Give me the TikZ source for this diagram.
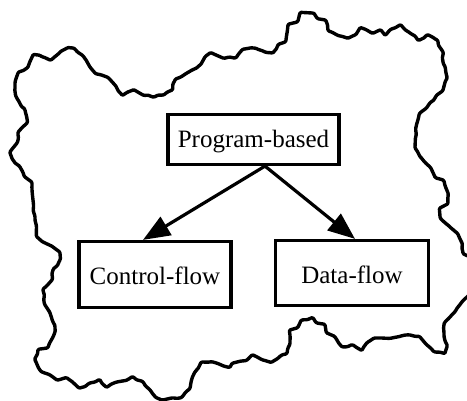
\documentclass[tikz,border=0pt]{standalone}
\usepackage{fontspec}
\setmainfont{Liberation Serif}
\usetikzlibrary{arrows.meta, decorations.pathmorphing}

\tikzset{
  blob/.style={line width=3.4pt, line join=round, line cap=round,
    rounded corners=1pt, decorate,
    decoration={random steps, segment length=5pt, amplitude=1.1pt}},
  boxnode/.style={draw, line width=3.2pt, inner sep=0pt, align=center,
    font=\fontsize{25}{30}\selectfont},
  link/.style={line width=3.2pt, -{Triangle[length=27pt, width=21pt]}}
}

\begin{document}
\begin{tikzpicture}[x=1pt, y=-1pt]
  \pgfmathsetseed{7}
  \useasboundingbox (0,0) rectangle (467,401);
  \clip (0,0) rectangle (467,401);

  % irregular region enclosing the taxonomy
  \draw[blob] (15,90) -- (15,83) -- (18,73) -- (27,68) -- (33,55) -- (43,57)
    -- (50,60) -- (57,55) -- (67,48) -- (73,48) -- (82,55) -- (90,67) -- (95,73)
    -- (107,77) -- (115,85) -- (122,95) -- (133,90) -- (143,95) -- (153,97)
    -- (163,95) -- (172,90) -- (175,80) -- (187,73) -- (200,65) -- (205,57)
    -- (210,53) -- (223,58) -- (235,58) -- (242,50) -- (250,48) -- (260,50)
    -- (272,53) -- (278,45) -- (285,42) -- (287,33) -- (288,25) -- (297,22)
    -- (300,13) -- (313,13) -- (317,18) -- (325,20) -- (328,30) -- (337,35)
    -- (347,38) -- (355,35) -- (360,28) -- (372,33) -- (380,30) -- (385,35)
    -- (390,30) -- (400,25) -- (410,33) -- (418,40) -- (427,35) -- (437,40)
    -- (443,52) -- (443,62) -- (447,77) -- (443,90) -- (437,95) -- (430,103)
    -- (420,113) -- (417,123) -- (415,147) -- (423,160) -- (430,167) -- (435,177)
    -- (443,180) -- (448,193) -- (448,203) -- (440,208) -- (440,217) -- (450,227)
    -- (457,233) -- (462,243) -- (463,253) -- (475,258) -- (475,290) -- (467,297)
    -- (458,307) -- (450,317) -- (445,322) -- (444,335) -- (447,345) -- (445,353)
    -- (435,352) -- (427,345) -- (420,337) -- (410,335) -- (397,337) -- (380,338)
    -- (375,338) -- (368,342) -- (362,350) -- (353,345) -- (343,347) -- (335,337)
    -- (327,333) -- (325,325) -- (317,323) -- (313,318) -- (302,320) -- (298,327)
    -- (290,330) -- (290,343) -- (287,353) -- (282,355) -- (272,362) -- (263,360)
    -- (253,355) -- (247,360) -- (233,363) -- (230,367) -- (213,362) -- (202,362)
    -- (195,372) -- (190,388) -- (182,397) -- (172,398) -- (163,400) -- (157,398)
    -- (150,390) -- (143,382) -- (133,377) -- (127,380) -- (117,382) -- (107,387)
    -- (100,380) -- (90,383) -- (80,388) -- (67,378) -- (58,380) -- (50,375)
    -- (42,372) -- (35,360) -- (38,350) -- (47,348) -- (53,337) -- (55,327)
    -- (50,313) -- (45,305) -- (43,290) -- (52,280) -- (53,270) -- (60,260)
    -- (60,253) -- (53,247) -- (43,242) -- (37,237) -- (35,217) -- (33,200)
    -- (32,183) -- (25,177) -- (20,167) -- (13,160) -- (10,153) -- (17,143)
    -- (18,133) -- (27,123) -- (25,110) -- (18,100) -- cycle;

  % the three categories
  \node[boxnode, minimum width=171pt, minimum height=50pt,
        text height=17.5pt, text depth=1pt] (pb) at (253.5,139.5) {Program-based};
  \node[boxnode, minimum width=152pt, minimum height=66pt,
        text height=21pt, text depth=0pt] (cf) at (155,274.5) {Control-flow};
  \node[boxnode, minimum width=153pt, minimum height=65pt,
        text height=21pt, text depth=0pt] (df) at (352,273) {Data-flow};

  % connectors
  \coordinate (fork) at ([xshift=11.5pt]pb.south);
  \coordinate (cfin) at ([xshift=-12pt]cf.north);
  \coordinate (dfin) at ([xshift=3pt]df.north);
  \draw[link] (fork) -- (cfin);
  \draw[link] (fork) -- (dfin);
\end{tikzpicture}
\end{document}
